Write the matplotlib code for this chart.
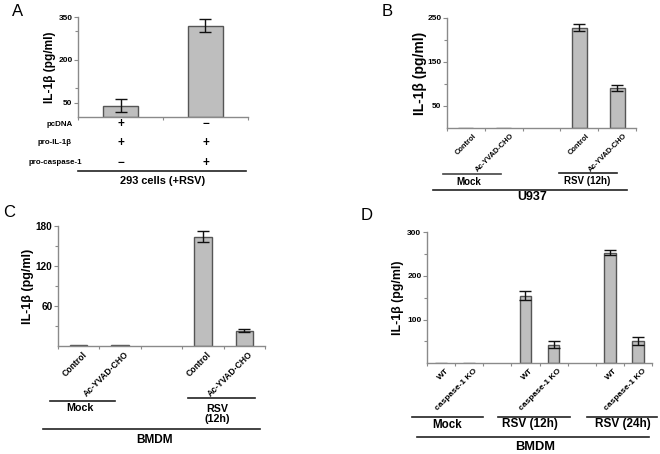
import matplotlib
matplotlib.use('Agg')
import matplotlib.pyplot as plt
from matplotlib import transforms

plt.rcParams['font.family'] = ['Liberation Sans', 'DejaVu Sans']

W, H = 660, 454

# ---------------- data ----------------
# Panel A
a_rows = ['pcDNA', 'pro-IL-1β', 'pro-caspase-1']
a_signs = [['+', '−'], ['+', '+'], ['−', '+']]
a_values = [40, 320]
a_errors = [23, 22]
a_yticks = [50, 200, 350]
a_yminor = [100, 300]
a_cell = '293 cells (+RSV)'

# Panel B
b_categories = ['Control', 'Ac-YVAD-CHO', 'Control', 'Ac-YVAD-CHO']
b_values = [1, 0, 228, 90]
b_errors = [0, 0, 8, 7]
b_groups = ['Mock', 'RSV (12h)']
b_cell = 'U937'
b_yticks = [50, 150, 250]
b_yminor = [100, 200]

# Panel C
c_categories = ['Control', 'Ac-YVAD-CHO', 'Control', 'Ac-YVAD-CHO']
c_values = [0.8, 0.8, 164, 23]
c_errors = [0, 0, 8, 2.5]
c_groups = ['Mock', 'RSV\n(12h)']
c_cell = 'BMDM'
c_yticks = [60, 120, 180]
c_yminor = [30, 90, 150]

# Panel D
d_categories = ['WT', 'caspase-1 KO', 'WT', 'caspase-1 KO', 'WT', 'caspase-1 KO']
d_values = [0, 0, 155, 42, 253, 51]
d_errors = [0, 0, 10, 8, 6, 9]
d_groups = ['Mock', 'RSV (12h)', 'RSV (24h)']
d_cell = 'BMDM'
d_yticks = [100, 200, 300]
d_yminor = [50, 150, 250]

ylabel = 'IL-1β (pg/ml)'

# ---------------- style ----------------
BAR = '#bebebe'
EDGE = '#555555'
SPINE = '#8a8a8a'

fig = plt.figure(figsize=(W / 100, H / 100), dpi=100)


def fy(ypx):
    return 1 - ypx / H


def make_ax(x0, x1, ytop, ybot):
    return fig.add_axes([x0 / W, fy(ybot), (x1 - x0) / W, (ybot - ytop) / H])


def style_ax(ax, yticks, yminor, ymax, nx, tick_fs):
    ax.set_ylim(0, ymax)
    ax.set_xlim(0, nx)
    for s in ['top', 'right']:
        ax.spines[s].set_visible(False)
    for s in ['left', 'bottom']:
        ax.spines[s].set_color(SPINE)
        ax.spines[s].set_linewidth(1.0)
    ax.set_yticks(yticks)
    ax.set_yticklabels([str(t) for t in yticks], fontsize=tick_fs, fontweight='bold')
    ax.set_yticks(yminor, minor=True)
    ax.tick_params(axis='y', which='major', length=3, width=0.8, color=SPINE, pad=1)
    ax.tick_params(axis='y', which='minor', length=2, width=0.8, color=SPINE)
    ax.set_xticks(range(nx + 1))
    ax.set_xticklabels([])
    ax.tick_params(axis='x', which='major', length=2, width=0.8, color=SPINE, direction='out')


def draw_bars(ax, pos, vals, errs, width):
    ax.bar(pos, vals, width=width, color=BAR, edgecolor=EDGE, linewidth=1.0, zorder=2)
    ep = [p for p, e in zip(pos, errs) if e > 0]
    ev = [v for v, e in zip(vals, errs) if e > 0]
    ee = [e for e in errs if e > 0]
    ax.errorbar(ep, ev, yerr=ee, fmt='none', ecolor='#111111', elinewidth=1.0,
                capsize=4, capthick=1.0, zorder=3)


def cat_labels(ax, pos, cats, fs, pad):
    ax.set_xticks(pos, minor=True)
    ax.set_xticklabels(cats, minor=True, rotation=45, ha='right',
                       rotation_mode='anchor', fontsize=fs, fontweight='bold')
    ax.tick_params(axis='x', which='minor', length=0, pad=pad)


def hline(ax, x0, x1, ypx, lw=1.2, color='#222222'):
    tr = transforms.blended_transform_factory(ax.transData, fig.transFigure)
    ax.plot([x0, x1], [fy(ypx), fy(ypx)], transform=tr, color=color, lw=lw, clip_on=False)


def label(ax, x, ypx, s, fs, **kw):
    tr = transforms.blended_transform_factory(ax.transData, fig.transFigure)
    ax.text(x, fy(ypx), s, transform=tr, fontsize=fs, fontweight='bold',
            ha='center', va='center', **kw)


# ---------------- Panel A ----------------
axA = make_ax(78, 248, 17, 117)
style_ax(axA, a_yticks, a_yminor, 350, 2, 6)
posA = [0.5, 1.5]
draw_bars(axA, posA, a_values, a_errors, 0.41)
axA.set_ylabel(ylabel, fontsize=8.6, fontweight='bold', labelpad=1.5)
row_y = [124, 143, 163]
row_right = [73, 72, 82]
for r, (name, signs) in enumerate(zip(a_rows, a_signs)):
    fig.text(row_right[r] / W, fy(row_y[r]), name, fontsize=5.7, fontweight='bold',
             ha='right', va='center')
    for p, s in zip(posA, signs):
        label(axA, p, row_y[r], s, 8.5)
hline(axA, 0.0, 1.98, 171)
label(axA, 1.0, 181, a_cell, 7.9)
fig.text(18 / W, fy(12), 'A', fontsize=12, ha='center', va='center')

# ---------------- Panel B ----------------
axB = make_ax(447, 636, 18, 128)
style_ax(axB, b_yticks, b_yminor, 250, 5, 6)
posB = [0.5, 1.5, 3.5, 4.5]
draw_bars(axB, posB, b_values, b_errors, 0.4)
axB.set_ylabel(ylabel, fontsize=10, fontweight='bold', labelpad=0)
cat_labels(axB, [p + 0.18 for p in posB], b_categories, 5.4, 3)
hline(axB, -0.1, 1.42, 174, color='#444444')
label(axB, 0.58, 182, b_groups[0], 7)
hline(axB, 2.95, 4.5, 173)
label(axB, 3.71, 181, b_groups[1], 7)
hline(axB, -0.37, 4.76, 190)
label(axB, 2.24, 197.5, b_cell, 9)
fig.text(387 / W, fy(12), 'B', fontsize=12, ha='center', va='center')

# ---------------- Panel C ----------------
axC = make_ax(58, 265, 226, 346)
style_ax(axC, c_yticks, c_yminor, 180, 5, 7.2)
posC = [0.5, 1.5, 3.5, 4.5]
draw_bars(axC, posC, c_values, c_errors, 0.42)
axC.set_ylabel(ylabel, fontsize=9, fontweight='bold', labelpad=1.5)
cat_labels(axC, [p + 0.1 for p in posC], c_categories, 6.2, 3)
hline(axC, -0.19, 1.38, 400.7)
label(axC, 0.54, 408, c_groups[0], 7.7)
hline(axC, 3.14, 4.76, 398)
label(axC, 3.84, 414, c_groups[1], 7.7, linespacing=1.1)
hline(axC, -0.36, 4.87, 429)
label(axC, 2.32, 440, c_cell, 8.6)
fig.text(9 / W, fy(212), 'C', fontsize=12, ha='center', va='center')

# ---------------- Panel D ----------------
axD = make_ax(427, 652, 232.3, 363.3)
style_ax(axD, d_yticks, d_yminor, 300, 8, 6)
posD = [0.5, 1.5, 3.5, 4.5, 6.5, 7.5]
draw_bars(axD, posD, d_values, d_errors, 0.41)
axD.set_ylabel(ylabel, fontsize=8.9, fontweight='bold', labelpad=2)
cat_labels(axD, [p + 0.15 for p in posD], d_categories, 6, 3)
hline(axD, -0.53, 1.99, 416.7)
label(axD, 0.71, 424.5, d_groups[0], 8.3)
hline(axD, 2.53, 5.09, 416.7)
label(axD, 3.67, 424.5, d_groups[1], 8.5)
hline(axD, 5.69, 8.19, 416.7)
label(axD, 6.98, 424.5, d_groups[2], 8.5)
hline(axD, -0.36, 7.9, 436.7)
label(axD, 3.84, 447, d_cell, 9.3)
fig.text(367 / W, fy(216), 'D', fontsize=12, ha='center', va='center')

fig.savefig('out.png', dpi=100)
